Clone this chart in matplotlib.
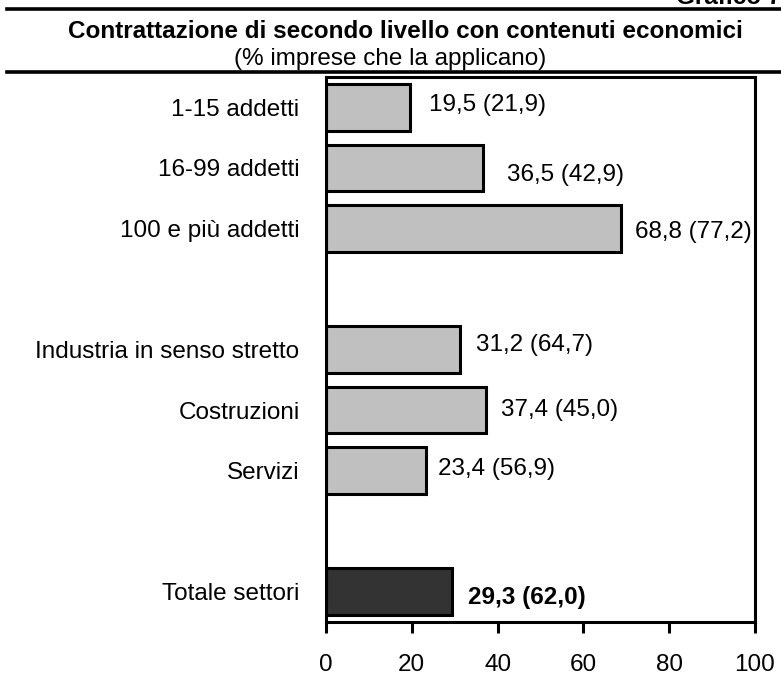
import matplotlib
matplotlib.use("Agg")
import matplotlib.pyplot as plt
from matplotlib.lines import Line2D

plt.rcParams["font.family"] = ["Liberation Sans", "DejaVu Sans"]

categories = ["1-15 addetti", "16-99 addetti", "100 e più addetti",
              "Industria in senso stretto", "Costruzioni", "Servizi",
              "Totale settori"]
positions = [0, 1, 2, 4, 5, 6, 8]
values = [19.5, 36.5, 68.8, 31.2, 37.4, 23.4, 29.3]
values_prev = [21.9, 42.9, 77.2, 64.7, 45.0, 56.9, 62.0]
xticks = [0, 20, 40, 60, 80, 100]

# label placement (data units), as in the original layout
label_dx = [4.4, 5.6, 3.3, 3.7, 3.3, 2.6, 3.7]
label_dy = [-0.03, 0.12, 0.06, -0.08, 0.0, -0.03, 0.1]

FS = 17.5
W, H = 781, 692
fig = plt.figure(figsize=(W / 100, H / 100), dpi=100)
ax = fig.add_axes([326 / W, 1 - 622 / H, (755 - 326) / W, (622 - 77) / H])

colors = ["#c0c0c0"] * 6 + ["#333333"]
ax.barh(positions, values, height=0.77, color=colors, edgecolor="black",
        linewidth=2.2)

for i, (p, v, vp) in enumerate(zip(positions, values, values_prev)):
    txt = f"{v:.1f} ({vp:.1f})".replace(".", ",")
    ax.text(v + label_dx[i], p + label_dy[i], txt, va="center", ha="left",
            fontsize=FS, fontweight="bold" if i == 6 else "normal")

ax.set_xlim(0, 100)
ax.set_ylim(8.5, -0.5)
ax.set_xticks(xticks)
ax.set_xticklabels([str(t) for t in xticks], fontsize=FS)
ax.set_yticks(positions)
ax.set_yticklabels(categories, fontsize=FS)
ax.tick_params(axis="y", length=0, pad=19)
ax.tick_params(axis="x", length=8, width=2.2, direction="out", pad=15)
for s in ax.spines.values():
    s.set_linewidth(2.2)

fig.add_artist(Line2D([7 / W, 1], [1 - 8.5 / H] * 2, color="black", lw=2.6))
fig.add_artist(Line2D([7 / W, 1], [1 - 71.5 / H] * 2, color="black", lw=2.6))

fig.text(405 / W, 1 - 31 / H, "Contrattazione di secondo livello con contenuti economici",
         ha="center", va="center", fontsize=FS, fontweight="bold")
fig.text(390 / W, 1 - 59 / H, "(% imprese che la applicano)",
         ha="center", va="center", fontsize=FS)
fig.text(1.0, 1 - 4 / H, "Grafico 7", ha="right", va="baseline",
         fontsize=FS, fontweight="bold")

fig.savefig("out.png", dpi=100)
